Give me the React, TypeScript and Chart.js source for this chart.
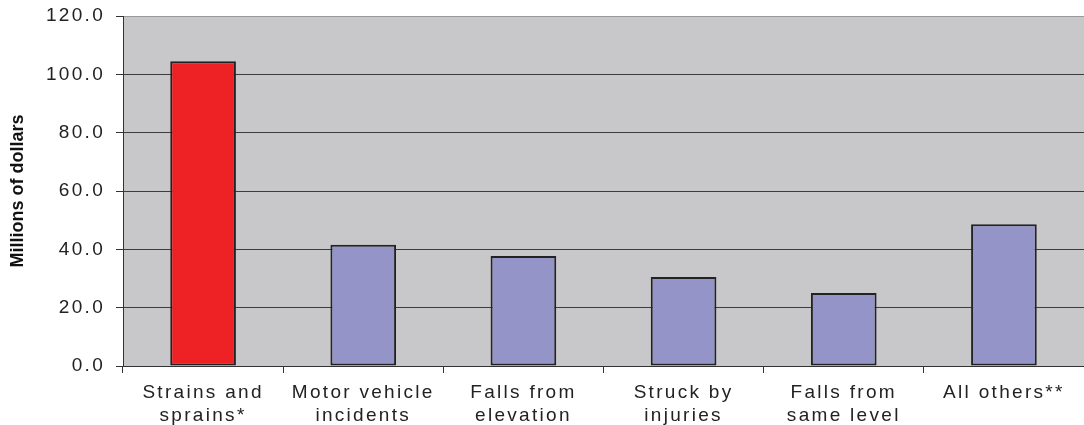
import React, { useEffect, useRef } from "react";
import { Chart, registerables } from "chart.js";

Chart.register(...registerables);

const categories: string[][] = [
  ["Strains and", "sprains*"],
  ["Motor vehicle", "incidents"],
  ["Falls from", "elevation"],
  ["Struck by", "injuries"],
  ["Falls from", "same level"],
  ["All others**"],
];
const costs: number[] = [104.5, 41.6, 37.7, 30.5, 25.0, 48.6];
const barColors: string[] = ["#EE2224", "#9494C8", "#9494C8", "#9494C8", "#9494C8", "#9494C8"];
const yTitle = "Millions of dollars";

const FONT = "'Liberation Sans', Arial, sans-serif";

const stylePlugin = {
  id: "stylePlugin",
  beforeDraw(chart: any) {
    const { ctx, chartArea } = chart;
    ctx.save();
    ctx.fillStyle = "#C8C8CA";
    ctx.fillRect(chartArea.left, chartArea.top, chartArea.right - chartArea.left, chartArea.bottom - chartArea.top);
    ctx.restore();
    (ctx as any).letterSpacing = "0px";
  },
  beforeDatasetsDraw(chart: any) {
    (chart.ctx as any).letterSpacing = "2.3px";
  },
  afterDraw(chart: any) {
    (chart.ctx as any).letterSpacing = "0px";
  },
};

export default function App() {
  const ref = useRef<HTMLCanvasElement | null>(null);
  useEffect(() => {
    document.body.style.margin = "0";
    if (!ref.current) return;
    const chart = new Chart(ref.current, {
      type: "bar",
      data: {
        labels: categories,
        datasets: [
          {
            data: costs,
            backgroundColor: barColors,
            borderColor: "#222222",
            borderWidth: 2,
            borderSkipped: false,
            categoryPercentage: 1,
            barPercentage: 0.41,
          },
        ],
      },
      options: {
        animation: false,
        responsive: false,
        maintainAspectRatio: false,
        layout: { padding: { top: 16, right: 0, bottom: 0, left: 0 } },
        plugins: {
          legend: { display: false },
          tooltip: { enabled: false },
        },
        scales: {
          x: {
            grid: {
              drawOnChartArea: false,
              drawTicks: true,
              tickLength: 7,
              tickColor: "#333333",
              offset: true,
            },
            border: { color: "#333333", width: 1 },
            ticks: {
              z: 1,
              color: "#222222",
              font: { family: FONT, size: 19, lineHeight: 1.17 },
              padding: 9,
              maxRotation: 0,
              minRotation: 0,
              autoSkip: false,
            },
            afterFit: (scale: any) => {
              scale.height = 59;
              scale.paddingLeft = 0;
              scale.paddingRight = 0;
            },
          },
          y: {
            min: 0,
            max: 120,
            ticks: {
              z: 1,
              stepSize: 20,
              color: "#222222",
              font: { family: FONT, size: 19 },
              padding: 11,
              callback: (v: any) => Number(v).toFixed(1),
            },
            grid: {
              color: (c: any) => (c.tick && c.tick.value === 120 ? "#9a9a9a" : "#3c3c3c"),
              tickColor: "#333333",
              tickLength: 7,
              lineWidth: 1,
            },
            border: { color: "#333333", width: 1 },
            title: {
              display: true,
              text: yTitle,
              color: "#111111",
              font: { family: FONT, size: 18, weight: "bold" },
              padding: { top: 7, bottom: 0 },
            },
            afterFit: (scale: any) => {
              scale.width = 123;
              scale.paddingTop = 0;
              scale.paddingBottom = 0;
            },
          },
        },
      },
      plugins: [stylePlugin],
    });
    return () => chart.destroy();
  }, []);
  return <canvas ref={ref} width={1084} height={425} style={{ display: "block", width: 1084, height: 425 }} />;
}
